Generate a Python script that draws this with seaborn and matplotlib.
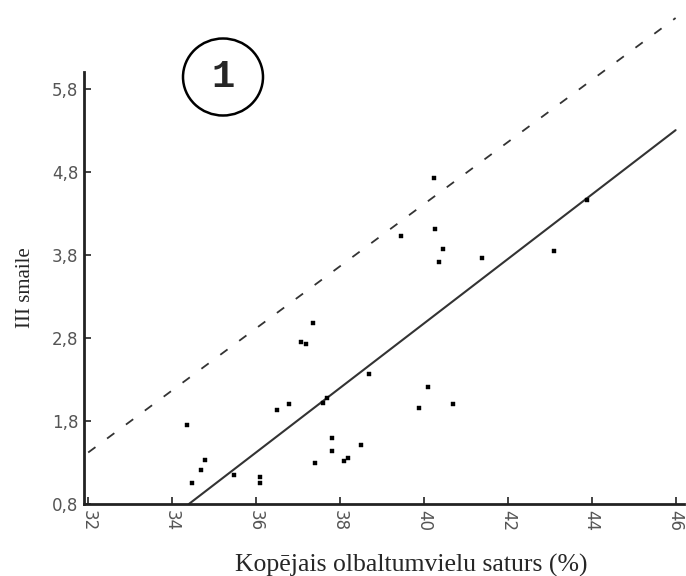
import matplotlib
matplotlib.use("Agg")
import matplotlib.pyplot as plt
from matplotlib.patches import Ellipse
import seaborn as sns
import pandas as pd

# Data
protein = [34.36, 34.48, 34.69, 34.79, 35.48, 36.10, 36.10, 36.50, 36.79, 37.07,
           37.19, 37.36, 37.40, 37.60, 37.69, 37.81, 37.81, 38.10, 38.19, 38.50,
           38.69, 40.24, 39.45, 40.26, 40.45, 40.36, 41.38, 43.10, 43.88, 40.10,
           39.88, 40.69]
peak3 = [1.75, 1.05, 1.21, 1.33, 1.15, 1.12, 1.05, 1.93, 2.00, 2.75,
         2.73, 2.98, 1.29, 2.01, 2.07, 1.59, 1.44, 1.32, 1.35, 1.51,
         2.36, 4.72, 4.03, 4.11, 3.87, 3.71, 3.76, 3.85, 4.46, 2.21,
         1.95, 2.00]

# regression line and upper limit (end points)
fit_x = [34.4, 46.0]
fit_y = [0.8, 5.30]
upper_x = [32.0, 46.0]
upper_y = [1.42, 6.65]

yticks = [0.8, 1.8, 2.8, 3.8, 4.8, 5.8]
xticks = [32, 34, 36, 38, 40, 42, 44, 46]

df = pd.DataFrame({"x": protein, "y": peak3})

sns.set_style("ticks")
fig = plt.figure(figsize=(6.86, 5.76), dpi=100)
ax = fig.add_axes([84 / 686, 72 / 576, 600 / 686, 432 / 576])

sns.scatterplot(data=df, x="x", y="y", ax=ax, color="black", marker="s",
                s=8, edgecolor="black", linewidth=0.3, zorder=3)
sns.lineplot(x=fit_x, y=fit_y, ax=ax, color="#333333", linewidth=1.5)
sns.lineplot(x=upper_x, y=upper_y, ax=ax, color="#333333", linewidth=1.3,
             dashes=False)
for ln in ax.lines:
    ln.set_clip_on(False)
ax.lines[1].set_dashes([5, 8])

ax.set_xlim(31.9, 46.2)
ax.set_ylim(0.8, 6.0)
ax.set_xticks(xticks)
ax.set_yticks(yticks)
ax.set_xticklabels([str(t) for t in xticks], rotation=-90, color="#555555",
                   fontsize=12, family="DejaVu Sans")
ax.set_yticklabels([f"{t:.1f}".replace(".", ",") for t in yticks],
                   color="#555555", fontsize=12, family="DejaVu Sans")
ax.tick_params(direction="in", length=5, width=1.2, color="#222222", pad=4)
for side in ["top", "right"]:
    ax.spines[side].set_visible(False)
for side in ["left", "bottom"]:
    ax.spines[side].set_linewidth(2)
    ax.spines[side].set_color("#222222")

ax.set_xlabel("Kopējais olbaltumvielu saturs (%)", family="Liberation Serif",
              fontsize=18.5)
ax.xaxis.set_label_coords(0.545, -0.115)
ax.set_ylabel("III smaile", family="Liberation Serif", fontsize=15, labelpad=12)

# circled panel number
fig.patches.append(Ellipse((223 / 686, 1 - 77 / 576), 80 / 686, 77 / 576,
                           transform=fig.transFigure, fill=False,
                           edgecolor="black", linewidth=1.8))
fig.text(223 / 686, 1 - 77 / 576, "1", ha="center", va="center",
         fontsize=28, fontweight="bold", family="Liberation Mono")

fig.savefig("out.png", dpi=100)
